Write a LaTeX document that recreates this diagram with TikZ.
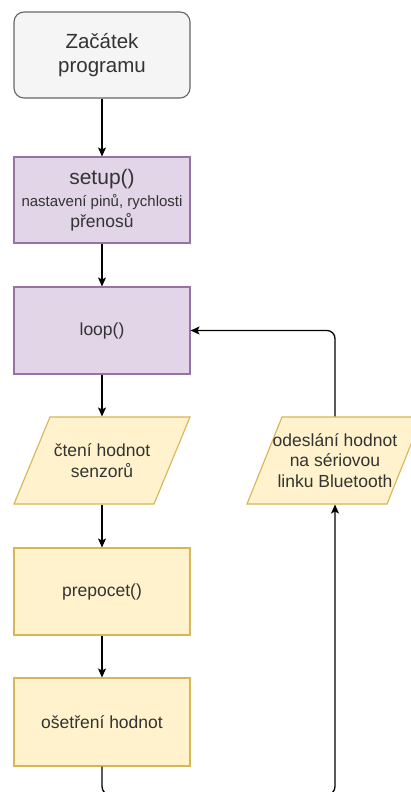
\documentclass[tikz,border=0pt]{standalone}
\usepackage{fontspec}
\setmainfont{Liberation Sans}
\usetikzlibrary{arrows.meta}
\definecolor{txt}{HTML}{333333}
\definecolor{startfill}{HTML}{F5F5F5}
\definecolor{startdraw}{HTML}{666666}
\definecolor{purfill}{HTML}{E1D5E7}
\definecolor{purdraw}{HTML}{9673A6}
\definecolor{yelfill}{HTML}{FFF2CC}
\definecolor{yeldraw}{HTML}{D6B656}
\tikzset{
  box/.style={rectangle, minimum width=176pt, minimum height=87pt, inner sep=0pt,
    line width=1.1pt, text=txt, align=center, font=\fontsize{17.5}{20.5}\selectfont},
  startbox/.style={box, rounded corners=10pt, fill=startfill, draw=startdraw,
    font=\fontsize{20.5}{23.5}\selectfont},
  purbox/.style={box, fill=purfill, draw=purdraw},
  yelbox/.style={box, fill=yelfill, draw=yeldraw},
  iotext/.style={box, minimum width=140pt},
  iofill/.style={fill=yelfill, draw=yeldraw, line width=1.1pt, line join=miter},
  arr/.style={line width=1.3pt, -{Stealth[length=9pt, width=8pt, inset=2pt]}},
}
\begin{document}
\begin{tikzpicture}[x=1pt, y=-1pt]
\useasboundingbox (0,0) rectangle (411,792);
\clip (0,0) rectangle (411,792);
\fill[white] (0,0) rectangle (411,792);

\node[startbox, minimum height=86pt] (start) at (102,55) {Začátek\\programu};
\node[purbox, minimum height=86pt] (setup) at (102,200)
  {{\fontsize{21}{25}\selectfont setup()}\\[2pt]\fontsize{15}{17.5}\selectfont nastavení pinů, rychlosti\\přenosů};
\node[purbox] (loop) at (102,330.5) {loop()};

\path[iofill] (50,417) -- (190,417) -- (154,504) -- (14,504) -- cycle;
\node[iotext] (read) at (102,460.5) {čtení hodnot\\senzorů};

\path[iofill] (282,417) -- (422,417) -- (387,504) -- (247,504) -- cycle;
\node[iotext] (send) at (335,460.5) {odeslání hodnot\\na sériovou\\linku Bluetooth};

\node[yelbox] (prep) at (102,591.5) {prepocet()};
\node[yelbox, minimum height=88pt] (osetr) at (102,722) {ošetření hodnot};

\draw[arr] (start) -- (setup);
\draw[arr] (setup) -- (loop);
\draw[arr] (loop) -- (read);
\draw[arr] (read) -- (prep);
\draw[arr] (prep) -- (osetr);
\draw[arr, rounded corners=8pt] (osetr.south) -- ++(0,28) -| (send.south);
\draw[arr, rounded corners=8pt] (send.north) |- (loop.east);
\end{tikzpicture}
\end{document}
